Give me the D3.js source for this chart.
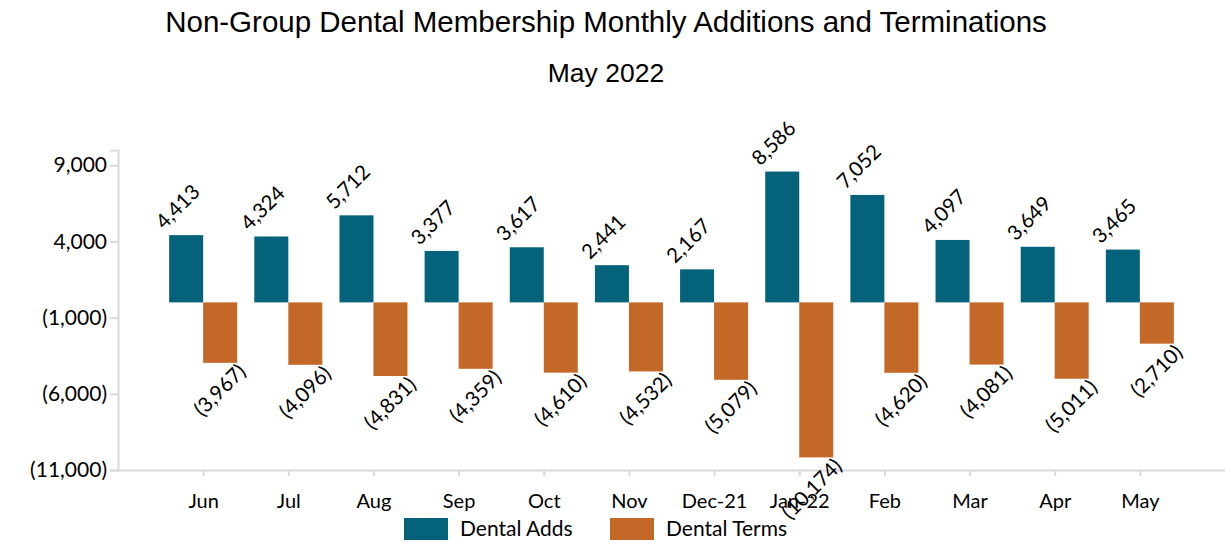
<!DOCTYPE html>
<html lang="en">
<head>
    <meta charset="UTF-8" />
    <script src="https://cdn.jsdelivr.net/npm/d3@7"></script>
    <style>
        body { margin: 0; background: #fff; }
        .title { font-family: "Liberation Sans", Arial, sans-serif; fill: #000; }
        .lbl { font-family: Lato, "Open Sans", sans-serif; fill: #000; }
    </style>
    <title>Dental Membership Adds and Terms</title>
</head>
<body>
<div id="chart"></div>
<script>
    // data
    var months = ["Jun", "Jul", "Aug", "Sep", "Oct", "Nov", "Dec-21", "Jan-22", "Feb", "Mar", "Apr", "May"];
    var dentalAdds = [4413, 4324, 5712, 3377, 3617, 2441, 2167, 8586, 7052, 4097, 3649, 3465];
    var dentalTerms = [-3967, -4096, -4831, -4359, -4610, -4532, -5079, -10174, -4620, -4081, -5011, -2710];
    var yTicks = [9000, 4000, -1000, -6000, -11000];
    var seriesNames = ["Dental Adds", "Dental Terms"];

    var W = 1225, H = 544;
    var colors = { "Dental Adds": "#04637b", "Dental Terms": "#c46828" };

    var svg = d3.select("#chart").append("svg")
        .attr("width", W)
        .attr("height", H);

    svg.append("text").attr("class", "title")
        .attr("x", 606).attr("y", 32)
        .attr("text-anchor", "middle")
        .style("font-size", "29.5px")
        .text("Non-Group Dental Membership Monthly Additions and Terminations");

    svg.append("text").attr("class", "title")
        .attr("x", 606).attr("y", 82)
        .attr("text-anchor", "middle")
        .style("font-size", "26.5px")
        .text("May 2022");

    var x = d3.scalePoint()
        .domain(months)
        .range([118, 1225])
        .padding(1);

    var inner = d3.scaleBand()
        .domain(seriesNames)
        .range([-34, 34]);

    var y = d3.scaleLinear()
        .domain([-11000, 10000])
        .range([470, 150]);

    var fmt = d3.format(",");
    function fmtAcc(v) { return v < 0 ? "(" + fmt(-v) + ")" : fmt(v); }

    // y axis
    var yAxis = svg.append("g")
        .attr("transform", "translate(118,0)")
        .call(d3.axisLeft(y).tickValues(yTicks).tickFormat(fmtAcc).tickSize(8).tickPadding(3));
    yAxis.select(".domain").attr("stroke", "#d9d9d9").attr("stroke-width", 2);
    yAxis.selectAll(".tick line").attr("stroke", "#d9d9d9").attr("stroke-width", 2);
    yAxis.selectAll(".tick text").attr("class", "lbl").style("font-size", "21px");

    // x axis
    var xAxis = svg.append("g")
        .attr("transform", "translate(0,470)")
        .call(d3.axisBottom(x).tickSize(6).tickPadding(18).tickSizeOuter(0));
    xAxis.select(".domain").attr("stroke", "#d9d9d9").attr("stroke-width", 2);
    xAxis.selectAll(".tick line").attr("stroke", "#d9d9d9").attr("stroke-width", 2);
    xAxis.selectAll(".tick text").attr("class", "lbl").style("font-size", "20px");

    var rows = months.map(function (m, i) {
        return { month: m, adds: dentalAdds[i], terms: dentalTerms[i] };
    });

    // bars
    var groups = svg.append("g").selectAll("g")
        .data(rows)
        .enter().append("g")
        .attr("transform", function (d) { return "translate(" + x(d.month) + ",0)"; });

    groups.append("rect")
        .attr("x", inner("Dental Adds"))
        .attr("width", inner.bandwidth())
        .attr("y", function (d) { return y(d.adds); })
        .attr("height", function (d) { return y(0) - y(d.adds); })
        .attr("fill", colors["Dental Adds"]);

    groups.append("rect")
        .attr("x", inner("Dental Terms"))
        .attr("width", inner.bandwidth())
        .attr("y", y(0))
        .attr("height", function (d) { return y(d.terms) - y(0); })
        .attr("fill", colors["Dental Terms"]);

    // labels
    groups.append("text").attr("class", "lbl")
        .attr("transform", function (d) {
            return "translate(" + (inner("Dental Adds") - 5) + "," + (y(d.adds) - 5) + ")rotate(-45)";
        })
        .style("font-size", "20.5px")
        .text(function (d) { return fmtAcc(d.adds); });

    groups.append("text").attr("class", "lbl")
        .attr("text-anchor", "end")
        .attr("transform", function (d) {
            return "translate(" + (inner("Dental Terms") + inner.bandwidth() + 10) + "," + (y(d.terms) + 10) + ")rotate(-45)";
        })
        .style("font-size", "20.5px")
        .text(function (d) { return fmtAcc(d.terms); });

    // legend
    var legend = svg.append("g").selectAll("g")
        .data(seriesNames)
        .enter().append("g")
        .attr("transform", function (d, i) { return "translate(" + (404 + i * 206) + ",518)"; });
    legend.append("rect")
        .attr("width", 44).attr("height", 22)
        .attr("fill", function (d) { return colors[d]; });
    legend.append("text").attr("class", "lbl")
        .attr("x", 56).attr("y", 18)
        .style("font-size", "21px")
        .text(function (d) { return d; });
</script>
</body>
</html>
